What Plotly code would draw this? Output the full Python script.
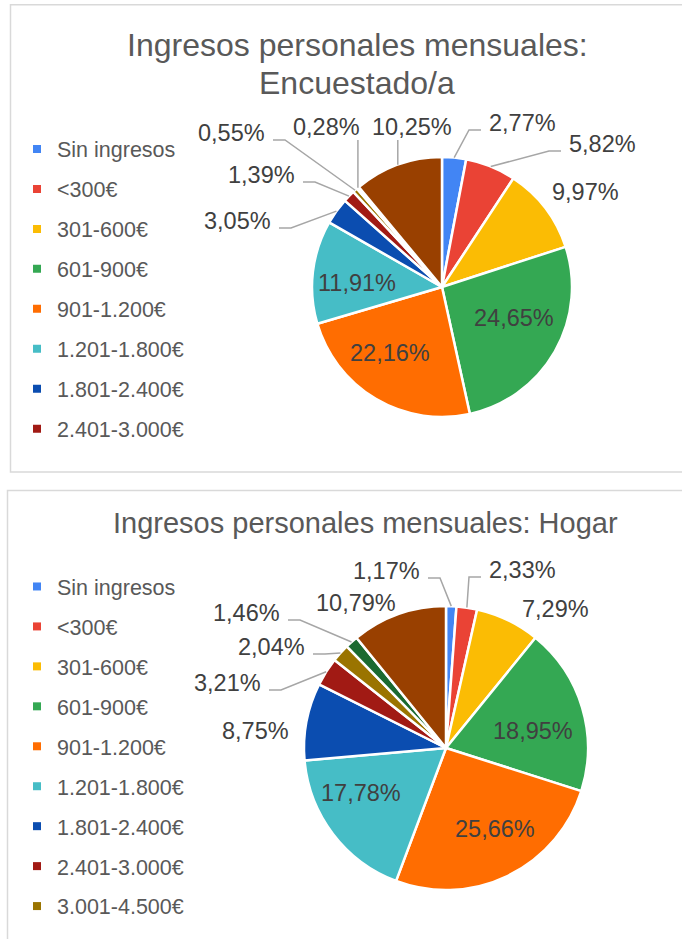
import math
import plotly.graph_objects as go

W, H = 682, 939

# ---------------- data ----------------
categories = ["Sin ingresos", "<300€", "301-600€", "601-900€", "901-1.200€",
              "1.201-1.800€", "1.801-2.400€", "2.401-3.000€", "3.001-4.500€",
              "4.501-6.000€", "NS/NC"]
encuestado_values = [2.77, 5.82, 9.97, 24.65, 22.16, 11.91, 3.05, 1.39, 0.55, 0.28, 10.25]
hogar_values = [1.17, 2.33, 7.29, 18.95, 25.66, 17.78, 8.75, 3.21, 2.04, 1.46, 10.79]
colors = ["#4285F4", "#EA4335", "#FBBC04", "#34A853", "#FF6D01", "#46BDC6",
          "#0B4DB0", "#A11A14", "#9A7400", "#1B6A30", "#994000"]
title_top = ["Ingresos personales mensuales:", "Encuestado/a"]
title_bottom = "Ingresos personales mensuales: Hogar"
legend_top_count = 8
legend_bottom_count = 9

# ---------------- style / layout ----------------
FONT = "Liberation Sans, Arial, sans-serif"
TITLE_COLOR = "#595959"
LABEL_COLOR = "#404040"
LEADER_COLOR = "#A6A6A6"
LABEL_SIZE = 23.5
LEGEND_SIZE = 21.5

# label placement per slice (pixel layout): inside labels use "free" centres,
# outside labels attach to the slice edge via a leader line
charts = [
    dict(values=encuestado_values, cx=442, cy=287, r=130,
         labels=[("hr", 487, 123), ("hr", 567, 144), ("free", 585, 192),
                 ("free", 514, 318), ("free", 390, 353), ("free", 357, 283),
                 ("hl", 273, 221), ("hl", 297, 175), ("hl", 267, 133),
                 ("v", 326, 127), ("v", 412, 127)]),
    dict(values=hogar_values, cx=446, cy=748, r=142,
         labels=[("hl", 422, 571), ("hr", 487, 570), ("free", 555, 609),
                 ("free", 533, 731), ("free", 495, 829), ("free", 361, 793),
                 ("free", 255, 731), ("hl", 263, 683), ("hl", 307, 647),
                 ("hl", 282, 613), ("free", 356, 603)]),
]


def fmt(v):
    return f"{v:.2f}".replace(".", ",") + "%"


fig = go.Figure()
annotations = []
shapes = []

# chart frames
shapes.append(dict(type="rect", xref="x", yref="y", x0=10.5, y0=4.7, x1=720, y1=472,
                   line=dict(color="#D9D9D9", width=1.5), layer="below"))
shapes.append(dict(type="rect", xref="x", yref="y", x0=7.5, y0=490.5, x1=720, y1=990,
                   line=dict(color="#D9D9D9", width=1.5), layer="below"))

for ch in charts:
    vals = ch["values"]
    cx, cy, r = ch["cx"], ch["cy"], ch["r"]
    fig.add_trace(go.Pie(
        labels=categories, values=vals, sort=False, direction="clockwise", rotation=0,
        marker=dict(colors=colors, line=dict(color="white", width=2.5)),
        textinfo="none", showlegend=False, hoverinfo="label+percent",
        domain=dict(x=[(cx - r) / W, (cx + r) / W], y=[1 - (cy + r) / H, 1 - (cy - r) / H]),
    ))
    total = sum(vals)
    cum = 0.0
    for v, spec in zip(vals, ch["labels"]):
        mid = (cum + v / 2) / total * 2 * math.pi
        cum += v
        ax = cx + r * math.sin(mid)
        ay = cy - r * math.cos(mid)
        mode = spec[0]
        txt = fmt(v)
        font = dict(family=FONT, size=LABEL_SIZE, color=LABEL_COLOR)
        if mode == "free":
            annotations.append(dict(x=spec[1], y=spec[2], xref="x", yref="y", text=txt,
                                    showarrow=False, font=font, xanchor="center", yanchor="middle"))
        elif mode in ("hl", "hr"):
            ex, ey = spec[1], spec[2]
            annotations.append(dict(x=ex, y=ey, xref="x", yref="y", text=txt, showarrow=False,
                                    font=font, xanchor="right" if mode == "hl" else "left",
                                    yanchor="middle"))
            sgn = 1 if mode == "hl" else -1
            s0 = ex + sgn * 6
            s1 = s0 + sgn * 12
            sy = ey + 7
            shapes.append(dict(type="path", xref="x", yref="y",
                               path=f"M {s0},{sy} L {s1},{sy} L {ax},{ay}",
                               line=dict(color=LEADER_COLOR, width=1.5)))
        elif mode == "v":
            annotations.append(dict(x=spec[1], y=spec[2], xref="x", yref="y", text=txt,
                                    showarrow=False, font=font, xanchor="center", yanchor="middle"))
            shapes.append(dict(type="line", xref="x", yref="y", x0=ax, y0=spec[2] + 13,
                               x1=ax, y1=ay, line=dict(color=LEADER_COLOR, width=1.5)))

# titles
annotations.append(dict(x=357, y=45, xref="x", yref="y", text=title_top[0], showarrow=False,
                        font=dict(family=FONT, size=32, color=TITLE_COLOR)))
annotations.append(dict(x=357, y=83, xref="x", yref="y", text=title_top[1], showarrow=False,
                        font=dict(family=FONT, size=32, color=TITLE_COLOR)))
annotations.append(dict(x=365, y=523, xref="x", yref="y", text=title_bottom, showarrow=False,
                        font=dict(family=FONT, size=29, color=TITLE_COLOR)))

# legend entries (dummy traces)
for i in range(legend_top_count):
    fig.add_trace(go.Scatter(x=[None], y=[None], mode="markers", name=categories[i],
                             marker=dict(symbol="square", size=8, color=colors[i]),
                             legend="legend", legendgroup=f"t{i}", hoverinfo="skip"))
for i in range(legend_bottom_count):
    fig.add_trace(go.Scatter(x=[None], y=[None], mode="markers", name=categories[i],
                             marker=dict(symbol="square", size=8, color=colors[i]),
                             legend="legend2", legendgroup=f"b{i}", hoverinfo="skip"))

legend_common = dict(xanchor="left", yanchor="top", bgcolor="rgba(0,0,0,0)",
                     font=dict(family=FONT, size=LEGEND_SIZE, color=TITLE_COLOR),
                     tracegroupgap=9, itemclick=False, itemdoubleclick=False)

fig.update_layout(
    width=W, height=H, margin=dict(l=0, r=0, t=0, b=0, autoexpand=False),
    paper_bgcolor="white", plot_bgcolor="white",
    xaxis=dict(range=[0, W], visible=False, fixedrange=True, domain=[0, 1]),
    yaxis=dict(range=[H, 0], visible=False, fixedrange=True, domain=[0, 1]),
    legend=dict(x=17 / W, y=1 - 128.5 / H, **legend_common),
    legend2=dict(x=17 / W, y=1 - 566 / H, **legend_common),
    annotations=annotations, shapes=shapes, showlegend=True,
)

fig.write_html("out.html", config={"displayModeBar": False},
               post_script="document.body.style.margin='0';")
